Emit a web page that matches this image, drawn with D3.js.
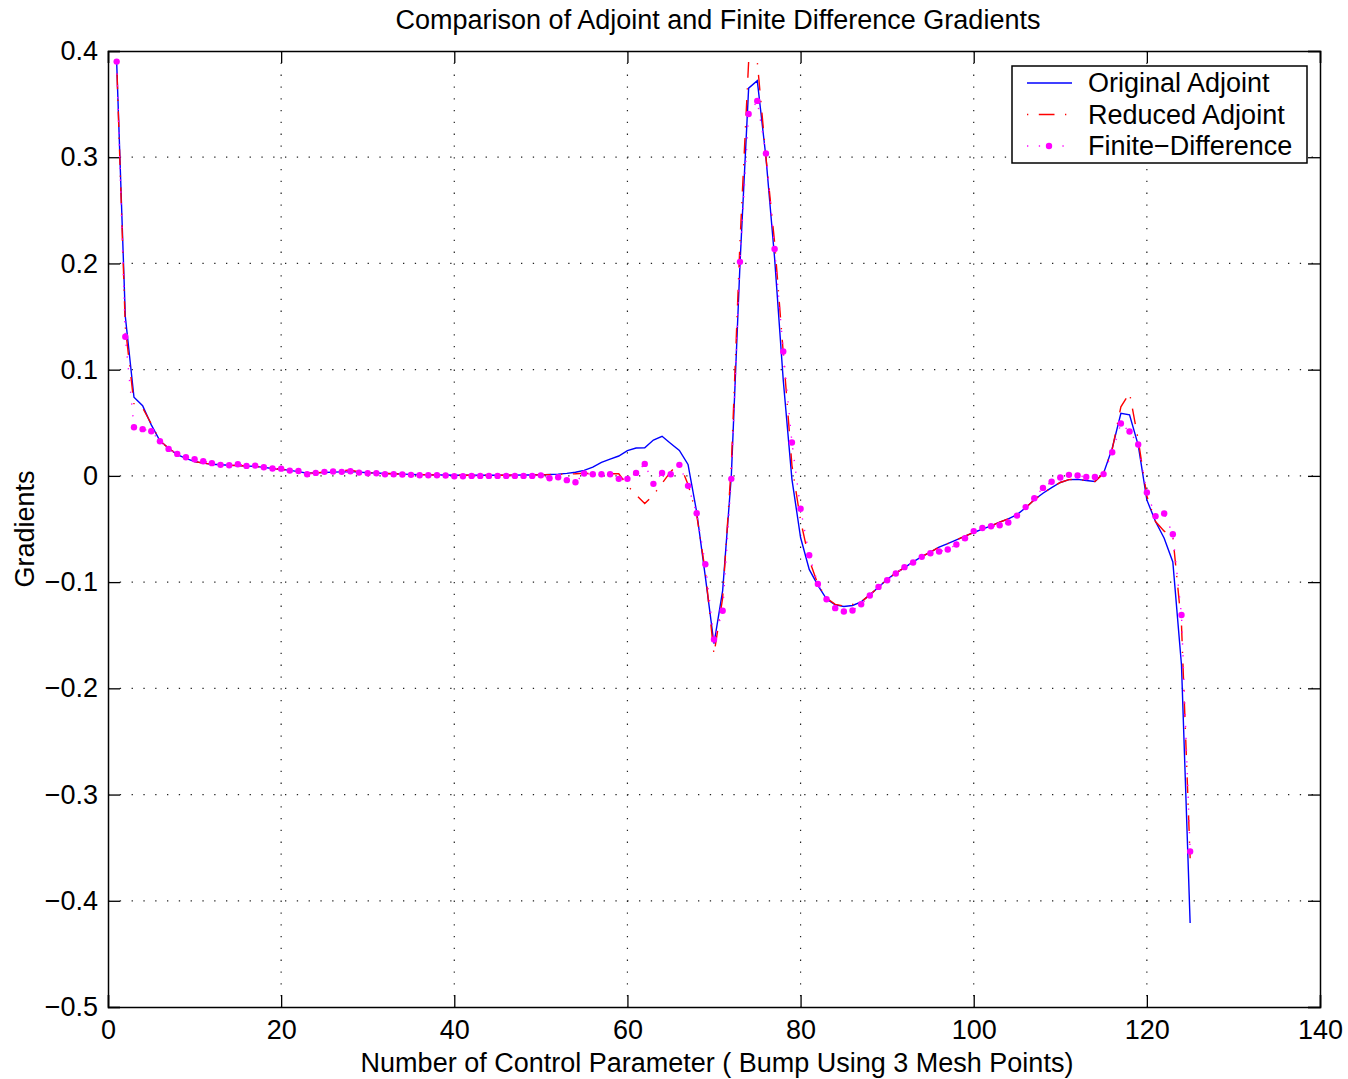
<!DOCTYPE html>
<head>
    <meta charset="utf-8">
    <title>Comparison of Adjoint and Finite Difference Gradients</title>
    <style>
        body { margin: 0; background: #fff; }
        svg { display: block; font-family: "Liberation Sans", Arial, Helvetica, sans-serif; }
    </style>
</head>
<body>

<svg width="1348" height="1079"></svg>

<script src="https://d3js.org/d3.v7.min.js"></script>

<script>

// values, one per control parameter (1..125)
var originalAdjoint = [
    0.390, 0.150, 0.074, 0.066, 0.048, 0.033, 0.026, 0.020, 0.0165, 0.0135,
    0.012, 0.011, 0.0105, 0.010, 0.0098, 0.0093, 0.009, 0.008, 0.007, 0.0062,
    0.0052, 0.004, 0.0025, 0.0028, 0.0032, 0.0035, 0.0038, 0.004, 0.0035, 0.003,
    0.0027, 0.0023, 0.002, 0.0017, 0.0014, 0.0012, 0.001, 0.0009, 0.0008, 0.0006,
    0.0006, 0.0006, 0.0006, 0.0006, 0.0006, 0.0006, 0.0007, 0.0008, 0.0009, 0.001,
    0.0013, 0.0017, 0.0024, 0.0034, 0.0052, 0.0082, 0.0127, 0.0158, 0.0187, 0.0238,
    0.0262, 0.0265, 0.0338, 0.0373, 0.0305, 0.024, 0.0108, -0.034, -0.095, -0.158,
    -0.108, 0.0, 0.199, 0.365, 0.372, 0.300, 0.205, 0.090, -0.003, -0.058,
    -0.088, -0.103, -0.116, -0.1214, -0.123, -0.122, -0.1186, -0.112, -0.1048, -0.0973,
    -0.0916, -0.0863, -0.081, -0.076, -0.0718, -0.0671, -0.0637, -0.0602, -0.0568, -0.0533,
    -0.0502, -0.047, -0.0435, -0.0405, -0.0365, -0.030, -0.0225, -0.0163, -0.011, -0.0062,
    -0.0035, -0.0033, -0.0044, -0.0053, 0.0025, 0.026, 0.059, 0.0574, 0.029, -0.0226,
    -0.043, -0.0587, -0.081, -0.178, -0.421
];

var reducedAdjoint = [
    0.390, 0.140, 0.068, 0.064, 0.049, 0.033, 0.026, 0.020, 0.0165, 0.0135,
    0.012, 0.011, 0.0105, 0.010, 0.0098, 0.0093, 0.009, 0.008, 0.007, 0.0062,
    0.0052, 0.004, 0.0025, 0.0028, 0.0035, 0.004, 0.005, 0.0055, 0.0038, 0.003,
    0.0027, 0.0023, 0.002, 0.0017, 0.0014, 0.0012, 0.001, 0.0009, 0.0008, 0.0006,
    0.0006, 0.0006, 0.0006, 0.0006, 0.0006, 0.0006, 0.0007, 0.0008, 0.0009, 0.001,
    0.0012, 0.0015, 0.0018, 0.002, 0.0025, 0.002, 0.002, 0.002, 0.002, -0.009,
    -0.018, -0.026, -0.018, -0.007, 0.004, 0.012, -0.008, -0.037, -0.090, -0.168,
    -0.115, 0.010, 0.220, 0.390, 0.390, 0.300, 0.220, 0.116, 0.010, -0.042,
    -0.079, -0.102, -0.115, -0.121, -0.1225, -0.121, -0.1186, -0.112, -0.1048, -0.0973,
    -0.0916, -0.0863, -0.081, -0.076, -0.0718, -0.0671, -0.0637, -0.0602, -0.0568, -0.0533,
    -0.0502, -0.047, -0.0435, -0.0405, -0.0365, -0.030, -0.0225, -0.0163, -0.011, -0.0062,
    -0.0035, -0.0033, -0.0044, -0.0053, 0.0025, 0.025, 0.065, 0.078, 0.034, -0.019,
    -0.043, -0.052, -0.057, -0.140, -0.360
];

var finiteDifference = [
    0.390, 0.131, 0.0458, 0.044, 0.042, 0.0326, 0.0254, 0.0207, 0.0176, 0.0157,
    0.0138, 0.012, 0.0104, 0.010, 0.011, 0.0094, 0.0097, 0.0082, 0.0069, 0.0068,
    0.005, 0.0046, 0.0016, 0.0028, 0.0038, 0.0041, 0.0038, 0.0044, 0.0031, 0.0025,
    0.0025, 0.0016, 0.0016, 0.0013, 0.001, 0.0006, 0.0006, 0.0006, 0.0003, -0.0003,
    -0.0003, 0.0, 0.0, 0.0, 0.0, 0.0, 0.0, 0.0, 0.0, 0.0005,
    -0.0022, -0.0013, -0.004, -0.006, 0.0022, 0.0016, 0.0016, 0.0016, -0.0028, -0.0028,
    0.0028, 0.0113, -0.0075, 0.0028, 0.0016, 0.0104, -0.0094, -0.0352, -0.0832, -0.154,
    -0.127, -0.0028, 0.2015, 0.3407, 0.353, 0.3036, 0.2137, 0.1172, 0.0315, -0.031,
    -0.0747, -0.1017, -0.1162, -0.1245, -0.1277, -0.1267, -0.1208, -0.1126, -0.1045, -0.0982,
    -0.0919, -0.0859, -0.0816, -0.0762, -0.0728, -0.0712, -0.0693, -0.0646, -0.0587, -0.052,
    -0.049, -0.0474, -0.0465, -0.0439, -0.0374, -0.0294, -0.021, -0.0113, -0.0055, -0.0015,
    0.001, 0.0003, -0.0011, -0.0011, 0.0017, 0.0223, 0.0493, 0.0418, 0.0295, -0.0156,
    -0.0379, -0.0354, -0.0549, -0.131, -0.3535
];

var xTicks = [0, 20, 40, 60, 80, 100, 120, 140];
var yTicks = [0.4, 0.3, 0.2, 0.1, 0, -0.1, -0.2, -0.3, -0.4, -0.5];
var seriesNames = ['Original Adjoint', 'Reduced Adjoint', 'Finite\u2212Difference'];

var svg = d3.select('svg'),
    margin = {left: 108, right: 28, top: 51, bottom: 72},
    width = +svg.attr('width') - margin.left - margin.right,
    height = +svg.attr('height') - margin.top - margin.bottom;

var x = d3.scaleLinear().domain([0, 140]).range([0, width]);
var y = d3.scaleLinear().domain([-0.5, 0.4]).range([height, 0]);

var g = svg.append('g').attr('transform', `translate(${margin.left},${margin.top})`);

var fontSize = 27;
var tickLen = 12;
var minus = s => s.replace('-', '\u2212');

// dotted grid
g.append('g').selectAll('line')
    .data(xTicks.slice(1, -1))
    .enter().append('line')
        .attr('x1', d => x(d)).attr('x2', d => x(d))
        .attr('y1', 0).attr('y2', height)
        .attr('stroke', '#222').attr('stroke-width', 1.2)
        .attr('stroke-dasharray', '1.3 10.5');

g.append('g').selectAll('line')
    .data(yTicks.slice(1, -1))
    .enter().append('line')
        .attr('x1', 0).attr('x2', width)
        .attr('y1', d => y(d)).attr('y2', d => y(d))
        .attr('stroke', '#222').attr('stroke-width', 1.2)
        .attr('stroke-dasharray', '1.3 10.5');

// axes, ticks pointing inwards like matlab
var xAxis = g.append('g')
    .attr('transform', `translate(0,${height})`)
    .call(d3.axisBottom(x).tickValues(xTicks).tickSize(-tickLen).tickPadding(13).tickFormat(d3.format('d')));

var xAxisTop = g.append('g')
    .call(d3.axisTop(x).tickValues(xTicks).tickSize(-tickLen).tickFormat(''));

var yAxis = g.append('g')
    .call(d3.axisLeft(y).tickValues(yTicks).tickSize(-tickLen).tickPadding(10)
        .tickFormat(d => d === 0 ? '0' : minus(d3.format('.1f')(d))));

var yAxisRight = g.append('g')
    .attr('transform', `translate(${width},0)`)
    .call(d3.axisRight(y).tickValues(yTicks).tickSize(-tickLen).tickFormat(''));

[xAxis, xAxisTop, yAxis, yAxisRight].forEach(a => {
    a.select('.domain').attr('stroke', '#000').attr('stroke-width', 1.5);
    a.selectAll('.tick line').attr('stroke', '#000').attr('stroke-width', 1.3);
    a.selectAll('text').attr('font-size', fontSize).attr('fill', '#000')
        .attr('font-family', '"Liberation Sans", Arial, sans-serif');
});

// lines
var line = d3.line().x((d, i) => x(i + 1)).y(d => y(d));

g.append('path')
    .datum(originalAdjoint)
    .attr('d', line)
    .attr('fill', 'none').attr('stroke', '#0000ff').attr('stroke-width', 1.4);

g.append('path')
    .datum(reducedAdjoint)
    .attr('d', line)
    .attr('fill', 'none').attr('stroke', '#ff0000').attr('stroke-width', 1.4)
    .attr('stroke-dasharray', '1.3 10.5 15.7 10.5');

g.append('path')
    .datum(finiteDifference)
    .attr('d', line)
    .attr('fill', 'none').attr('stroke', '#ff00ff').attr('stroke-width', 1.4)
    .attr('stroke-dasharray', '1.3 10.5');

g.append('g').selectAll('circle')
    .data(finiteDifference)
    .enter().append('circle')
        .attr('cx', (d, i) => x(i + 1))
        .attr('cy', d => y(d))
        .attr('r', 3.2)
        .attr('fill', '#ff00ff');

// title and labels
svg.append('text')
    .attr('x', margin.left + width / 2 + 4).attr('y', 29)
    .attr('text-anchor', 'middle').attr('font-size', fontSize)
    .text('Comparison of Adjoint and Finite Difference Gradients');

svg.append('text')
    .attr('x', margin.left + width / 2 + 3).attr('y', 1072)
    .attr('text-anchor', 'middle').attr('font-size', fontSize)
    .text('Number of Control Parameter ( Bump Using 3 Mesh Points)');

svg.append('text')
    .attr('transform', `translate(34,${margin.top + height / 2}) rotate(-90)`)
    .attr('text-anchor', 'middle').attr('font-size', fontSize)
    .text('Gradients');

// legend
var legend = svg.append('g').attr('transform', 'translate(1012,66)');

legend.append('rect')
    .attr('width', 295).attr('height', 97)
    .attr('fill', '#fff').attr('stroke', '#000').attr('stroke-width', 1.5);

var styles = [
    {stroke: '#0000ff', dash: null},
    {stroke: '#ff0000', dash: '1.3 10.5 15.7 10.5'},
    {stroke: '#ff00ff', dash: '1.3 10.5'}
];

var row = legend.selectAll('.row')
    .data(seriesNames)
    .enter().append('g')
        .attr('class', 'row')
        .attr('transform', (d, i) => `translate(0,${17 + i * 31.5})`);

row.append('line')
    .attr('x1', 15).attr('x2', 60)
    .attr('stroke', (d, i) => styles[i].stroke)
    .attr('stroke-width', 1.4)
    .attr('stroke-dasharray', (d, i) => styles[i].dash);

row.filter((d, i) => i === 2).append('circle')
    .attr('cx', 37).attr('r', 3.2).attr('fill', '#ff00ff');

row.append('text')
    .attr('x', 76).attr('y', 9)
    .attr('font-size', fontSize)
    .text(d => d);

</script>

</body>
